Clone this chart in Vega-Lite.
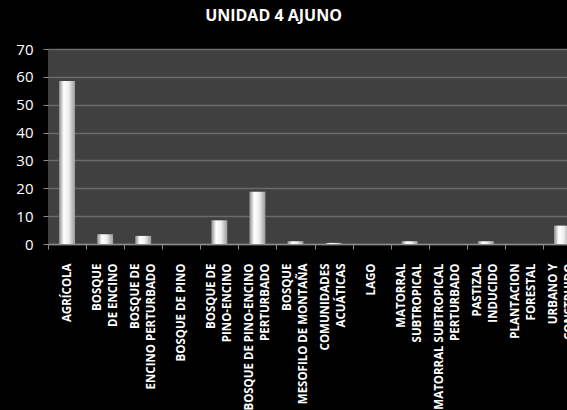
{
  "$schema": "https://vega.github.io/schema/vega-lite/v6.json",
  "autosize": {"type": "none"},
  "width": 519,
  "height": 195,
  "padding": {"left": 48, "top": 49, "right": 0, "bottom": 166},
  "background": "#000000",
  "title": {
    "text": "UNIDAD 4 AJUNO",
    "color": "#ffffff",
    "font": "Open Sans",
    "fontSize": 16,
    "fontWeight": "bold",
    "anchor": "middle",
    "baseline": "alphabetic",
    "dx": -34,
    "offset": 5
  },
  "data": {
    "values": [
      {"uso": "AGRÍCOLA", "porcentaje": 58.5},
      {"uso": "BOSQUE\nDE ENCINO", "porcentaje": 3.5},
      {"uso": "BOSQUE DE\nENCINO PERTURBADO", "porcentaje": 2.9},
      {"uso": "BOSQUE DE PINO", "porcentaje": 0},
      {"uso": "BOSQUE DE\nPINO-ENCINO", "porcentaje": 8.5},
      {"uso": "BOSQUE DE PINO-ENCINO\nPERTURBADO", "porcentaje": 18.8},
      {"uso": "BOSQUE\nMESOFILO DE MONTAÑA", "porcentaje": 1.0},
      {"uso": "COMUNIDADES\nACUÁTICAS", "porcentaje": 0.4},
      {"uso": "LAGO", "porcentaje": 0},
      {"uso": "MATORRAL\nSUBTROPICAL", "porcentaje": 1.0},
      {"uso": "MATORRAL SUBTROPICAL\nPERTURBADO", "porcentaje": 0},
      {"uso": "PASTIZAL\nINDUCIDO", "porcentaje": 1.0},
      {"uso": "PLANTACION\nFORESTAL", "porcentaje": 0},
      {"uso": "URBANO Y\nCONSTRUIDO", "porcentaje": 6.6}
    ]
  },
  "mark": {
    "type": "bar",
    "width": {"band": 0.42},
    "color": {
      "gradient": "linear",
      "x1": 0, "y1": 0, "x2": 1, "y2": 0,
      "stops": [
        {"offset": 0, "color": "#8c8c8c"},
        {"offset": 0.3, "color": "#ffffff"},
        {"offset": 0.6, "color": "#eeeeee"},
        {"offset": 1, "color": "#9a9a9a"}
      ]
    }
  },
  "encoding": {
    "x": {
      "field": "uso",
      "type": "nominal",
      "sort": null,
      "title": null,
      "scale": {"range": [0, 533], "paddingInner": 0, "paddingOuter": 0},
      "axis": {
        "labelAngle": -90,
        "labelExpr": "indexof(datum.label, '\\n') < 0 ? datum.label : [pad(split(datum.label, '\\n')[0], length(split(datum.label, '\\n')[0]) + round((max(length(split(datum.label, '\\n')[0]), length(split(datum.label, '\\n')[1])) - length(split(datum.label, '\\n')[0])) * 1.25), '\\u00a0'), pad(split(datum.label, '\\n')[1], length(split(datum.label, '\\n')[1]) + round((max(length(split(datum.label, '\\n')[0]), length(split(datum.label, '\\n')[1])) - length(split(datum.label, '\\n')[1])) * 1.25), '\\u00a0')]",
        "labelAlign": "right",
        "labelBaseline": "middle",
        "labelOffset": {"condition": {"test": "indexof(datum.label, '\\n') >= 0", "value": -8}, "value": 0},
        "labelColor": "#ffffff",
        "labelFont": "Open Sans",
        "labelFontSize": 11.5,
        "labelFontWeight": "bold",
        "labelLineHeight": 16,
        "labelPadding": 14,
        "labelLimit": 300,
        "labelOverlap": false,
        "tickBand": "extent",
        "tickSize": 5,
        "tickColor": "#8a8a8a",
        "domainColor": "#8a8a8a",
        "domainWidth": 1.5
      }
    },
    "y": {
      "field": "porcentaje",
      "type": "quantitative",
      "title": null,
      "scale": {"domain": [0, 70]},
      "axis": {
        "values": [0, 10, 20, 30, 40, 50, 60, 70],
        "labelColor": "#ffffff",
        "labelFont": "Open Sans",
        "labelFontSize": 15,
        "labelPadding": 10,
        "tickSize": 5,
        "tickColor": "#8a8a8a",
        "gridColor": "#6a6a6a",
        "gridWidth": 1.5,
        "domain": false
      }
    }
  },
  "config": {
    "view": {"fill": "#404040", "stroke": null}
  }
}
